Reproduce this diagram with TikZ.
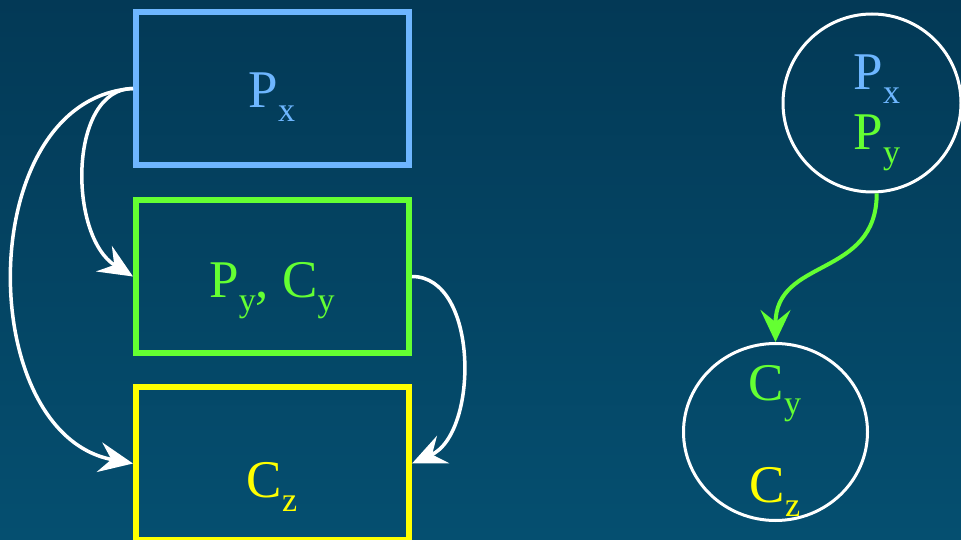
\documentclass[tikz,border=0pt]{standalone}
\usepackage{fontspec}
\setmainfont{Liberation Serif}
\usepackage{tikz}
\usetikzlibrary{arrows.meta, shapes.geometric}
\definecolor{bgTop}{RGB}{3,57,86}
\definecolor{bgBottom}{RGB}{5,79,112}
\definecolor{pxBlue}{RGB}{110,182,255}
\definecolor{pyGreen}{RGB}{100,255,50}
\definecolor{czYellow}{RGB}{255,255,0}
\newcommand{\lsub}[1]{\raisebox{-14pt}{\fontsize{34}{34}\selectfont #1}}
\tikzset{
  varbox/.style={rectangle,line width=6pt,minimum width=273pt,minimum height=153pt,inner sep=0pt},
  grpcirc/.style={ellipse,draw=white,line width=3pt,inner sep=0pt},
  lbl/.style={anchor=base,inner sep=0pt,font=\fontsize{53}{60}\selectfont},
  whitearr/.style={-{Stealth[length=34pt,width=30pt,inset=12pt]},line width=3.5pt,draw=white},
  greenarr/.style={-{Stealth[length=32pt,width=30pt,inset=12pt]},line width=4pt,draw=pyGreen}
}

\begin{document}
\begin{tikzpicture}[x=1pt,y=-1pt]
  %% Background
  \useasboundingbox (0,0) rectangle (961,540);
  \shade[top color=bgTop,bottom color=bgBottom] (0,0) rectangle (961,540);

  %% Variable boxes
  \node[varbox,draw=pxBlue] (pxbox) at (272.5,88.5) {};
  \node[varbox,draw=pyGreen] (pybox) at (272.5,276.5) {};
  \node[varbox,draw=czYellow] (czbox) at (272.5,463.5) {};

  \node[lbl,text=pxBlue] (pxtext) at (272,108) {P\lsub{x}};
  \node[lbl,text=pyGreen] (pytext) at (272,297) {P\lsub{y}, C\lsub{y}};
  \node[lbl,text=czYellow] (cztext) at (272,497) {C\lsub{z}};

  %% Dependencies between boxes
  \draw[whitearr] (pxbox.west) .. controls +(-65,0) and +(-65,-40) .. (pybox.west);
  \draw[whitearr] (pxbox.west) .. controls +(-160,10) and +(-160,-30) .. (czbox.west);
  \draw[whitearr] (pybox.east) .. controls +(67,0) and +(67,-30) .. (czbox.east);

  %% Grouped variables
  \node[grpcirc,minimum width=178pt,minimum height=178pt] (topcirc) at (872,103) {};
  \node[grpcirc,minimum width=184pt,minimum height=177pt] (botcirc) at (775.5,432) {};

  \node[lbl,text=pxBlue] (cpxtext) at (877,90) {P\lsub{x}};
  \node[lbl,text=pyGreen] (cpytext) at (877,150) {P\lsub{y}};
  \node[lbl,text=pyGreen] (cpctext) at (775,400) {C\lsub{y}};
  \node[lbl,text=czYellow] (cczext) at (775,502) {C\lsub{z}};

  \draw[greenarr] (topcirc.273) .. controls +(0,85) and +(0,-85) .. (botcirc.north);
\end{tikzpicture}
\end{document}
